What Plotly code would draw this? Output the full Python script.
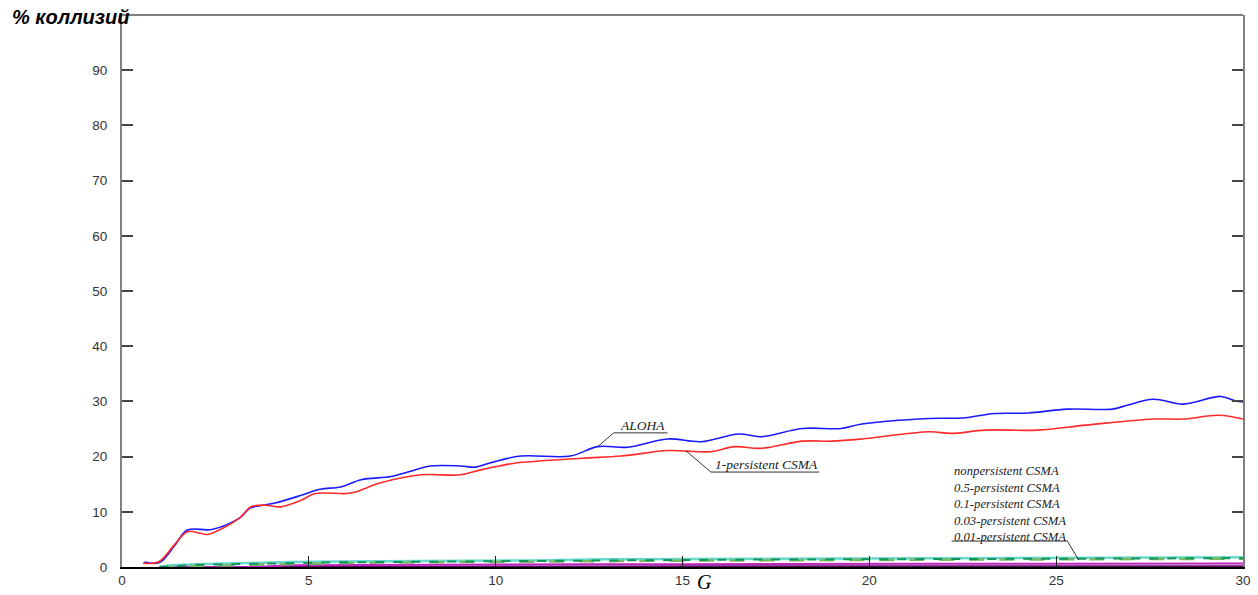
import plotly.graph_objects as go

# Offered load G and collision percentage for each access method
g_aloha = [0.6, 1.0, 1.4, 1.75, 2.4, 3.15, 3.43, 3.7, 4.1, 4.8, 5.3, 5.85, 6.4, 7.2, 7.7,
           8.25, 9.06, 9.46, 9.87, 10.67, 12.0, 12.73, 13.54, 14.6, 15.5, 16.5, 17.1,
           18.2, 19.25, 19.8, 21.6, 22.5, 23.35, 24.25, 25.3, 26.5, 26.9, 27.6, 28.4,
           29.4, 29.8, 30.0]
aloha = [0.9, 0.8, 3.8, 6.7, 6.8, 8.9, 10.7, 11.1, 11.6, 13.0, 14.1, 14.5, 15.8, 16.4, 17.3,
         18.3, 18.3, 18.1, 18.9, 20.1, 20.1, 21.8, 21.7, 23.2, 22.7, 24.1, 23.6,
         25.1, 25.1, 25.9, 26.9, 27.0, 27.8, 27.9, 28.6, 28.6, 29.3, 30.4, 29.5,
         30.9, 30.1, 29.9]

g_p1 = [0.56, 0.97, 1.4, 1.75, 2.1, 2.3, 2.6, 3.15, 3.45, 3.84, 4.24, 4.8, 5.17, 5.98,
        6.25, 6.9, 8.0, 9.05, 9.6, 10.1, 10.5, 12.3, 13.35, 14.6, 15.1, 15.75, 16.4,
        17.1, 18.2, 19.0, 19.8, 21.6, 22.2, 23.1, 24.5, 25.8, 27.6, 28.4, 29.35, 30.0]
p1_csma = [0.7, 0.9, 4.0, 6.4, 6.1, 5.9, 6.7, 8.9, 10.9, 11.2, 10.9, 12.1, 13.3, 13.3,
           13.6, 15.2, 16.7, 16.7, 17.6, 18.3, 18.8, 19.7, 20.1, 21.1, 21.0, 20.9, 21.8,
           21.5, 22.8, 22.8, 23.2, 24.5, 24.2, 24.8, 24.8, 25.7, 26.8, 26.8, 27.5, 26.8]

g_low = [1.0, 1.3, 2.0, 3.0, 3.5, 4.5, 5.75, 7.0, 9.3, 10.0, 11.0, 12.9, 15.0, 17.0,
         20.0, 22.0, 25.0, 27.0, 30.0]
nonpersistent = [0.0, 0.3, 0.5, 0.7, 0.8, 0.9, 1.0, 1.05, 1.1, 1.2, 1.2, 1.4, 1.45, 1.5,
                 1.55, 1.6, 1.6, 1.65, 1.75]
p05_csma = [0.0, 0.1, 0.4, 0.5, 0.6, 0.7, 0.85, 0.95, 1.0, 1.05, 1.1, 1.2, 1.3, 1.35,
            1.4, 1.45, 1.45, 1.5, 1.6]
p01_csma = [0.0, 0.0, 0.2, 0.35, 0.45, 0.55, 0.7, 0.8, 0.85, 0.9, 0.95, 1.05, 1.15, 1.2,
            1.3, 1.35, 1.4, 1.4, 1.5]
p003_csma = [0.0, 0.0, 0.0, 0.0, 0.0, 0.3, 0.35, 0.4, 0.4, 0.45, 0.45, 0.5, 0.5, 0.55,
             0.55, 0.6, 0.6, 0.6, 0.65]
p001_csma = [0.0, 0.0, 0.0, 0.0, 0.05, 0.05, 0.1, 0.1, 0.1, 0.1, 0.1, 0.1, 0.15, 0.15,
             0.15, 0.15, 0.15, 0.15, 0.15]

x_ticks = [0, 5, 10, 15, 20, 25, 30]
y_ticks = [0, 10, 20, 30, 40, 50, 60, 70, 80, 90]

low_labels = ["nonpersistent CSMA", "0.5-persistent CSMA", "0.1-persistent CSMA",
              "0.03-persistent CSMA", "0.01-persistent CSMA"]

fig = go.Figure()

fig.add_trace(go.Scatter(x=g_low, y=p001_csma, mode="lines",
                         line=dict(color="#5a1060", width=2)))
fig.add_trace(go.Scatter(x=g_low, y=p003_csma, mode="lines",
                         line=dict(color="#c020c0", width=2)))
fig.add_trace(go.Scatter(x=g_low, y=nonpersistent, mode="lines",
                         line=dict(color="#66d8cc", width=2.5)))
fig.add_trace(go.Scatter(x=g_low, y=p01_csma, mode="lines",
                         line=dict(color="#7ab866", width=2.5, dash="longdash")))
fig.add_trace(go.Scatter(x=g_low, y=p05_csma, mode="lines",
                         line=dict(color="#11955a", width=2, dash="dash")))

fig.add_trace(go.Scatter(x=g_aloha, y=aloha, mode="lines", line_shape="spline",
                         line=dict(color="#1a1aff", width=1.6)))
fig.add_trace(go.Scatter(x=g_p1, y=p1_csma, mode="lines", line_shape="spline",
                         line=dict(color="#ff2a2a", width=1.6)))

label_font = dict(family="Liberation Serif", size=13.5, color="#222222")
leader = dict(color="#333333", width=1)

# ALOHA label: underline plus leader to the curve
i_a = g_aloha.index(12.73)
fig.add_shape(type="line", x0=13.16, x1=14.6, y0=24.3, y1=24.3, line=leader)
fig.add_shape(type="line", x0=13.16, x1=g_aloha[i_a], y0=24.3, y1=aloha[i_a], line=leader)
fig.add_annotation(x=13.92, y=24.3, text="<i>ALOHA</i>", showarrow=False,
                   yanchor="bottom", yshift=-2, font=label_font)

# 1-persistent CSMA label
i_p = g_p1.index(15.1)
fig.add_shape(type="line", x0=15.76, x1=18.66, y0=17.2, y1=17.2, line=leader)
fig.add_shape(type="line", x0=15.76, x1=g_p1[i_p], y0=17.2, y1=p1_csma[i_p], line=leader)
fig.add_annotation(x=17.25, y=17.2, text="<i>1-persistent CSMA</i>", showarrow=False,
                   yanchor="bottom", yshift=-2, font=label_font)

# Stacked labels for the low-collision CSMA variants
fig.add_annotation(x=22.2, y=4.7, xanchor="left", yanchor="bottom", align="left",
                   yshift=-5,
                   text="<br>".join(f"<i>{t}</i>" for t in low_labels), showarrow=False,
                   font=dict(family="Liberation Serif", size=12.7, color="#222222"))
fig.add_shape(type="line", x0=22.2, x1=25.3, y0=4.7, y1=4.7, line=leader)
fig.add_shape(type="line", x0=25.3, x1=25.6, y0=4.7, y1=1.3, line=leader)

# Top border of the frame
fig.add_shape(type="line", xref="paper", yref="paper", x0=0, x1=1, y0=1, y1=1,
              line=dict(color="#808080", width=2))

fig.add_annotation(xref="paper", yref="paper", x=-0.1, y=1.0, xanchor="left",
                   yanchor="middle", yshift=-2, showarrow=False,
                   text="<b><i>% коллизий</i></b>",
                   font=dict(family="Liberation Sans", size=20, color="#000000"))
fig.add_annotation(xref="paper", yref="paper", x=0.52, y=-0.0507, yanchor="bottom",
                   showarrow=False, text="<i>G</i>",
                   font=dict(family="Liberation Serif", size=20, color="#000000"))

fig.update_layout(
    width=1258, height=595,
    margin=dict(l=122, r=15, t=15, b=28, autoexpand=False),
    paper_bgcolor="white", plot_bgcolor="white",
    showlegend=False,
    font=dict(family="Liberation Sans", size=13.5, color="#333333"),
    xaxis=dict(range=[0, 30], tickvals=x_ticks, ticktext=[str(v) for v in x_ticks],
               showgrid=False, zeroline=False, showline=True, linecolor="#000000",
               linewidth=2, ticks="inside", ticklen=11, tickcolor="#222222",
               tickwidth=1, automargin=False),
    yaxis=dict(range=[0, 100], tickvals=y_ticks, ticktext=[str(v) for v in y_ticks],
               showgrid=False, zeroline=False, showline=True, linecolor="#808080",
               linewidth=2, mirror="ticks", ticks="inside", ticklen=11,
               tickcolor="#444444", tickwidth=2, ticklabelstandoff=10, automargin=False),
)

fig.write_html("out.html")
